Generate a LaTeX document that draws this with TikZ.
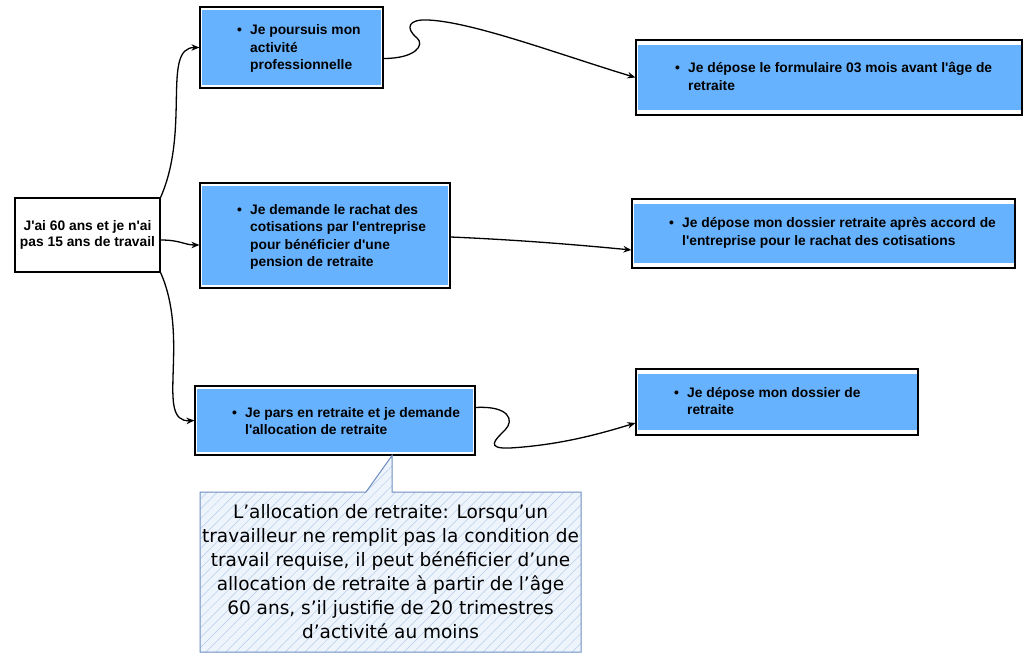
\documentclass[tikz,border=0pt]{standalone}
\usepackage{fontspec}
\setmainfont{Liberation Sans}[Ligatures=TeXOff]
\newfontfamily\notefont{DejaVu Sans}[Ligatures=TeXOff]
\usetikzlibrary{arrows.meta,patterns.meta}
\definecolor{boxblue}{HTML}{66B2FF}
\definecolor{callfill}{HTML}{EEF4FC}
\definecolor{callline}{HTML}{6C8EBF}
\definecolor{hatchc}{HTML}{B5CCEA}
\newcommand\bul{\makebox[13pt][l]{•}}
\tikzset{
  bluebox/.style 2 args={draw=black, line width=1.2pt, inner sep=0pt,
    path picture={\fill[boxblue] ([xshift=#1,yshift=-#2]path picture bounding box.north west) rectangle ([xshift=-#1,yshift=#2]path picture bounding box.south east);}},
  startbox/.style={draw=black, line width=1.2pt, fill=white, align=center, inner sep=0pt,
    font=\bfseries\fontsize{13.8}{16.5}\selectfont},
  txt/.style={anchor=base west, inner sep=0pt, font=\bfseries\fontsize{13.8}{17.3}\selectfont},
  conn/.style={line width=1.3pt, -{Stealth[length=8pt,width=6.5pt]}},
  notetext/.style={font=\notefont\fontsize{18.5}{24}\selectfont, align=center, inner sep=0pt},
}
\begin{document}
\begin{tikzpicture}[x=1pt,y=-1pt]
\useasboundingbox (0,0) rectangle (1031,660);
% boxes
\node[startbox, minimum width=145pt, minimum height=74pt] (start) at (87.5,235) {J'ai 60 ans et je n'ai\\pas 15 ans de travail};
\node[bluebox={2pt}{3pt}, minimum width=183pt, minimum height=81pt] (a1) at (291.5,47.5) {};
\node[bluebox={2pt}{3pt}, minimum width=250pt, minimum height=105pt] (a2) at (325,235.5) {};
\node[bluebox={2pt}{3pt}, minimum width=280pt, minimum height=69pt] (a3) at (335,420.5) {};
\node[bluebox={1.5pt}{5pt}, minimum width=386pt, minimum height=75pt] (b1) at (829,77.5) {};
\node[bluebox={1.5pt}{5pt}, minimum width=383pt, minimum height=69pt] (b2) at (823.5,233.5) {};
\node[bluebox={1.5pt}{5pt}, minimum width=282pt, minimum height=66pt] (b3) at (777,402) {};
% texts
\node[txt] (a1t) at (237,35) {\begin{tabular}[t]{@{}l@{}l@{}}\bul&Je poursuis mon\\&activité\\&professionnelle\end{tabular}};
\node[txt] (a2t) at (237,214.5) {\begin{tabular}[t]{@{}l@{}l@{}}\bul&Je demande le rachat des\\&cotisations par l'entreprise\\&pour bénéficier d'une\\&pension de retraite\end{tabular}};
\node[txt] (a3t) at (232,417) {\begin{tabular}[t]{@{}l@{}l@{}}\bul&Je pars en retraite et je demande\\&l'allocation de retraite\end{tabular}};
\node[txt] (b1t) at (675,73) {\begin{tabular}[t]{@{}l@{}l@{}}\bul&Je dépose le formulaire 03 mois avant l'âge de\\&retraite\end{tabular}};
\node[txt] (b2t) at (669,228) {\begin{tabular}[t]{@{}l@{}l@{}}\bul&Je dépose mon dossier retraite après accord de\\&l'entreprise pour le rachat des cotisations\end{tabular}};
\node[txt] (b3t) at (674,397) {\begin{tabular}[t]{@{}l@{}l@{}}\bul&Je dépose mon dossier de\\&retraite\end{tabular}};
% callout
\coordinate (tip) at ([xshift=57pt]a3.south);
\draw[callline, line width=1pt, preaction={fill=callfill},
  preaction={pattern={Lines[angle=45,distance=7pt,line width=0.5pt]}, pattern color=hatchc}]
  (200,492) -- (366,492) -- (tip) -- (392,492) -- (581,492) -- (581,652) -- (200,652) -- cycle;
\node[notetext] (note) at (390.5,572) {L’allocation de retraite: Lorsqu’un\\travailleur ne remplit pas la condition de\\travail requise, il peut bénéficier d’une\\allocation de retraite à partir de l’âge\\60 ans, s’il justifie de 20 trimestres\\d’activité au moins};
% connectors
\coordinate (k1) at (417,38);
\coordinate (k1b) at (428,20);
\coordinate (k2) at (505,430);
\coordinate (k2b) at (510,448);
\draw[conn] (start.north east) .. controls +(30,-68) and +(-38,0) .. (a1.west);
\draw[conn] ([yshift=-5pt]start.east) .. controls +(20,0) and +(-15,0) .. ([yshift=-9.5pt]a2.west);
\draw[conn] (start.south east) .. controls +(30,68) and +(-40,2) .. (a3.west);
\draw[conn] ([yshift=-11pt]a1.east) .. controls +(32,0) and +(8,7) .. (k1) .. controls +(-12,-10) and +(-20,-1) .. (k1b) .. controls +(45,2) and +(-76,-23) .. (b1.west);
\draw[conn] ([yshift=-1.5pt]a2.east) .. controls +(70,3) and +(-52,-5) .. ([yshift=-16.5pt]b2.west);
\draw[conn] ([yshift=13pt]a3.east) .. controls +(33,-2) and +(10,-10) .. (k2) .. controls +(-10,10) and +(-25,1) .. (k2b) .. controls +(50,-3) and +(-36,11) .. ([yshift=-21pt]b3.west);
\end{tikzpicture}
\end{document}
